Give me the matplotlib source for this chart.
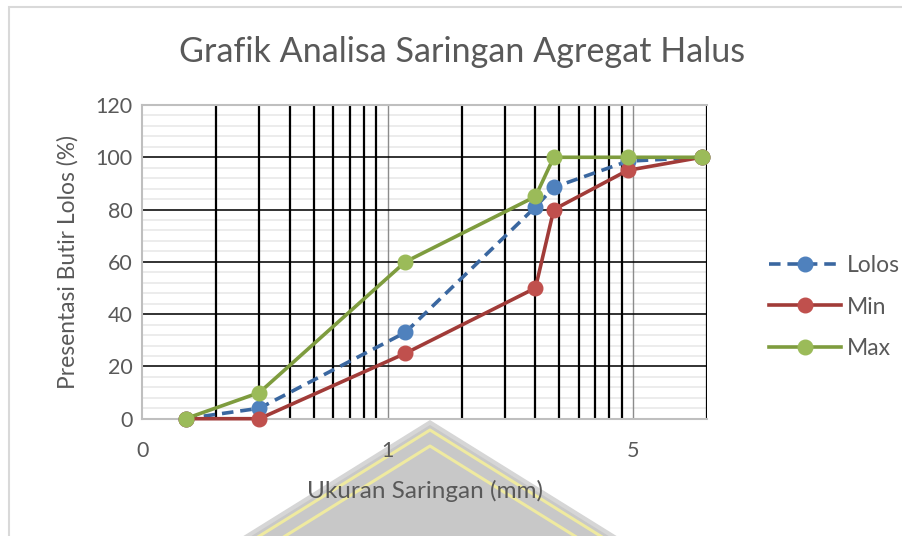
import numpy as np
import matplotlib
matplotlib.use('Agg')
import matplotlib.pyplot as plt
from matplotlib.patches import Polygon, Rectangle
from matplotlib.lines import Line2D
from matplotlib.ticker import FixedLocator, FixedFormatter

# data
ukuran = [0.15, 0.3, 1.18, 4.0, 4.75, 9.5, 19.0]
lolos = [0, 4, 33, 81, 88.5, 98.5, 100]
batas_min = [0, 0, 25, 50, 80, 95, 100]
batas_max = [0, 10, 60, 85, 100, 100, 100]

xtick_pos = [0.1, 1, 10]
xtick_lbl = ['0', '1', '5']
ytick_pos = [0, 20, 40, 60, 80, 100, 120]

W, H = 902, 536
TXT = '#595959'
plt.rcParams['font.family'] = ['Lato', 'DejaVu Sans']

def fx(px):
    return px / W

def fy(py):
    return 1 - py / H

fig = plt.figure(figsize=(W / 100, H / 100), dpi=100)

# chart frame
fig.add_artist(Rectangle((fx(9), fy(H + 5)), fx(W), fy(7) - fy(H + 5), transform=fig.transFigure,
                         fill=False, ec='#d9d9d9', lw=1.5, zorder=-3))

# watermark in background
ax_l, ax_r, ax_t, ax_b = 142.3, 707, 105, 418.7
apex_x, apex_y, slope = 430, 420, 185 / 115
def chevron(y0, yb=H + 2):
    d = (yb - y0) * slope
    return [(fx(apex_x - d), fy(yb)), (fx(apex_x), fy(y0)), (fx(apex_x + d), fy(yb))]
fig.add_artist(Polygon(chevron(apex_y), closed=True, transform=fig.transFigure,
                       fc='#d6d6d6', ec='none', zorder=-2))
fig.add_artist(Polygon(chevron(apex_y + 5), closed=True, transform=fig.transFigure,
                       fc='#c8c8c8', ec='none', zorder=-2))
for y0 in [apex_y + 10, apex_y + 26]:
    pts = np.array(chevron(y0))
    fig.add_artist(Line2D(pts[:, 0], pts[:, 1], transform=fig.transFigure,
                          color='#efeaa0', lw=2.2, zorder=-1.5))

ax = fig.add_axes([fx(ax_l), fy(ax_b), fx(ax_r - ax_l), fy(ax_t) - fy(ax_b)])
ax.patch.set_alpha(0)
ax.set_xscale('log')
ax.set_xlim(0.1, 20)
ax.set_ylim(0, 120)

# grid lines drawn by hand so the layering is right
for v in np.arange(4, 121, 4):
    ax.axhline(v, color='#ececec', lw=1.4, zorder=0.2)
for dec in [0.1, 1, 10]:
    for k in range(2, 10):
        if dec * k <= 20:
            ax.axvline(dec * k, color='#000000', lw=1.6, zorder=0.4)
for v in xtick_pos[1:]:
    ax.axvline(v, color='#8c8c8c', lw=1.0, zorder=0.4)
for v in ytick_pos[1:-1]:
    ax.axhline(v, color='#000000', lw=1.1, zorder=0.5)

ax.xaxis.set_major_locator(FixedLocator(xtick_pos))
ax.xaxis.set_major_formatter(FixedFormatter(xtick_lbl))
ax.xaxis.set_minor_locator(FixedLocator([]))
ax.yaxis.set_major_locator(FixedLocator(ytick_pos))

for s in ['left', 'bottom', 'top']:
    ax.spines[s].set_color('#bfbfbf')
    ax.spines[s].set_linewidth(1.5)
ax.spines['right'].set_visible(False)
ax.tick_params(which='both', length=0, labelsize=15.5, labelcolor=TXT)
ax.tick_params(axis='x', pad=16)
ax.tick_params(axis='y', pad=7)

ax.plot(ukuran, lolos, color='#3a67a0', lw=2.6, dashes=(3.2, 1.9),
        marker='o', ms=10.5, mfc='#4f81bd', mec='#4f81bd', label='Lolos', zorder=3)
ax.plot(ukuran, batas_min, color='#a13b38', lw=2.6,
        marker='o', ms=10.5, mfc='#c0504d', mec='#c0504d', label='Min', zorder=3)
ax.plot(ukuran, batas_max, color='#7e9c3e', lw=2.6,
        marker='o', ms=10.5, mfc='#9bbb59', mec='#9bbb59', label='Max', zorder=3)
for ln in ax.lines[-3:]:
    ln.set_clip_on(False)

ax.set_xlabel('Ukuran Saringan (mm)', fontsize=17.5, color=TXT, labelpad=14)
ax.set_ylabel('Presentasi Butir Lolos (%)', fontsize=16.4, color=TXT, labelpad=12)

fig.text(fx(462), fy(52), 'Grafik Analisa Saringan Agregat Halus', ha='center', va='center',
         fontsize=24.6, color=TXT)

leg = ax.legend(handles=ax.lines[-3:], loc='center left', bbox_to_anchor=(fx(758), fy(307)),
                bbox_transform=fig.transFigure, frameon=False, fontsize=16.5,
                handlelength=3.1, handletextpad=0.26, labelspacing=0.9, borderpad=0)
for t in leg.get_texts():
    t.set_color(TXT)

fig.savefig('out.png', dpi=100)
